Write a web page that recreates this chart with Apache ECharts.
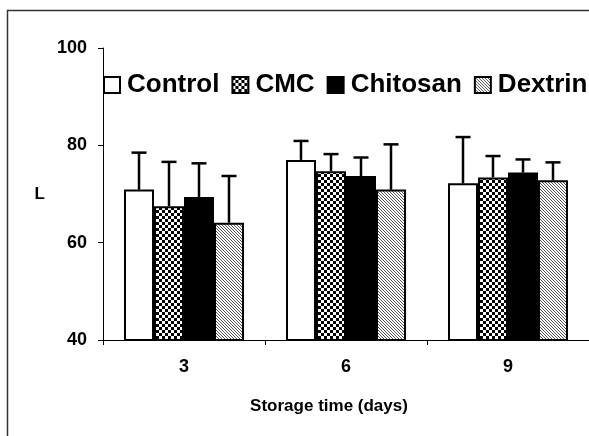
<!DOCTYPE html>
<html>
<head>
<meta charset="utf-8">
<script src="https://cdn.jsdelivr.net/npm/echarts@6/dist/echarts.min.js"></script>
<style>
    html, body { margin: 0; padding: 0; background: #fff; }
    #main { width: 589px; height: 436px; }
</style>
</head>
<body>
<div id="main"></div>
<script>
// storage days on x
const days = ['3', '6', '9']
const names = ['Control', 'CMC', 'Chitosan', 'Dextrin']

// mean L values
const control = [70.9, 77.0, 72.2]
const cmc = [67.5, 74.7, 73.4]
const chitosan = [69.4, 73.7, 74.4]
const dextrin = [64.1, 70.9, 72.8]

// upper error (sd)
const controlSd = [7.6, 3.9, 9.5]
const cmcSd = [9.1, 3.5, 4.4]
const chitosanSd = [6.9, 3.8, 2.7]
const dextrinSd = [9.6, 9.3, 3.7]

const yTicks = [40, 60, 80, 100]

const FONT = 'Liberation Sans, Arial, sans-serif'
const BAR_W = 30

// small canvas patterns
function checker() {
    const c = document.createElement('canvas')
    c.width = 6; c.height = 6
    const ctx = c.getContext('2d')
    ctx.fillStyle = '#fff'
    ctx.fillRect(0, 0, 6, 6)
    ctx.fillStyle = '#000'
    ctx.fillRect(0, 0, 3, 3)
    ctx.fillRect(3, 3, 3, 3)
    return c
}

function hatch() {
    const c = document.createElement('canvas')
    c.width = 3; c.height = 3
    const ctx = c.getContext('2d')
    ctx.fillStyle = '#fff'
    ctx.fillRect(0, 0, 3, 3)
    ctx.fillStyle = '#555'
    for (let i = 0; i < 3; i++) ctx.fillRect(i, i, 1, 1)
    return c
}

const fills = [
    '#fff',
    { image: checker(), repeat: 'repeat' },
    '#000',
    { image: hatch(), repeat: 'repeat' }
]
const means = [control, cmc, chitosan, dextrin]
const sds = [controlSd, cmcSd, chitosanSd, dextrinSd]

let myChart = echarts.init(document.querySelector('#main'))

let barSeries = names.map((n, k) => ({
    name: n,
    type: 'bar',
    data: means[k],
    barWidth: BAR_W,
    barGap: '0%',
    itemStyle: {
        color: fills[k],
        borderColor: '#000',
        borderWidth: 2
    },
    z: 2
}))

// error bars drawn on top of the bars
let errSeries = names.map((n, k) => ({
    type: 'custom',
    name: n + ' sd',
    z: 3,
    data: days.map((d, i) => [i, means[k][i], sds[k][i]]),
    renderItem: function (params, api) {
        const i = api.value(0)
        const m = api.value(1)
        const s = api.value(2)
        const p0 = api.coord([i, m])
        const p1 = api.coord([i, m + s])
        const x = p0[0] + (k - 1.5) * BAR_W
        const style = { stroke: '#000', lineWidth: 2.5 }
        return {
            type: 'group',
            children: [
                { type: 'line', shape: { x1: x, y1: p0[1], x2: x, y2: p1[1] }, style: style },
                { type: 'line', shape: { x1: x - 7.5, y1: p1[1], x2: x + 7.5, y2: p1[1] }, style: style }
            ]
        }
    }
}))

const option = {
    animation: false,
    backgroundColor: '#fff',
    textStyle: { fontFamily: FONT },
    graphic: [{
        type: 'rect',
        shape: { x: 7.5, y: 10.5, width: 620, height: 480 },
        style: { fill: 'none', stroke: '#333', lineWidth: 1.5 },
        silent: true
    }],
    legend: {
        data: names,
        left: 103,
        top: 72,
        width: 700,
        padding: 0,
        itemWidth: 16,
        itemHeight: 16,
        itemGap: 12,
        icon: 'rect',
        textStyle: {
            fontFamily: FONT,
            fontWeight: 'bold',
            fontSize: 26,
            color: '#000',
            padding: [0, 0, 0, 2]
        }
    },
    grid: {
        left: 103,
        top: 48,
        width: 489,
        bottom: 96
    },
    xAxis: {
        type: 'category',
        data: days,
        name: 'Storage time (days)',
        nameLocation: 'middle',
        nameGap: 58,
        nameTextStyle: {
            fontFamily: FONT,
            fontWeight: 'bold',
            fontSize: 17,
            color: '#000',
            padding: [0, 34, 0, 0]
        },
        axisLine: { lineStyle: { color: '#000', width: 1 } },
        axisTick: { show: true, length: 5, lineStyle: { color: '#000' } },
        axisLabel: {
            margin: 18,
            fontFamily: FONT,
            fontWeight: 'bold',
            fontSize: 18,
            color: '#000'
        }
    },
    yAxis: {
        type: 'value',
        min: yTicks[0],
        max: yTicks[yTicks.length - 1],
        interval: 20,
        name: 'L',
        nameLocation: 'middle',
        nameRotate: 0,
        nameGap: 58,
        nameTextStyle: {
            fontFamily: FONT,
            fontWeight: 'bold',
            fontSize: 17,
            color: '#000'
        },
        axisLine: { show: true, lineStyle: { color: '#000', width: 1 } },
        axisTick: { show: true, length: 5, lineStyle: { color: '#000' } },
        splitLine: { show: false },
        axisLabel: {
            margin: 16,
            fontFamily: FONT,
            fontWeight: 'bold',
            fontSize: 18,
            color: '#000'
        }
    },
    series: barSeries.concat(errSeries)
}

myChart.setOption(option)
</script>
</body>
</html>
